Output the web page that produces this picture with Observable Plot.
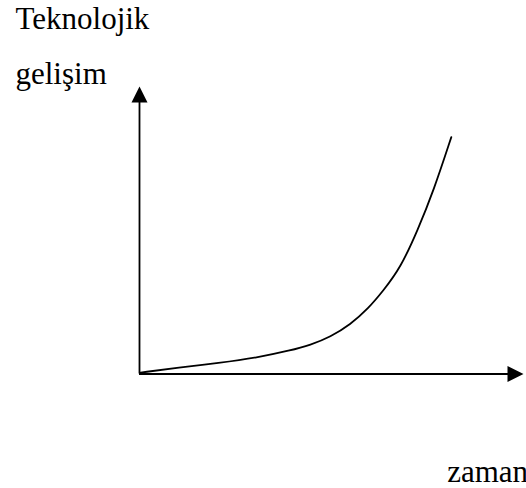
<!DOCTYPE html>
<html>
<head>
<meta charset="utf-8">
<script src="https://cdn.jsdelivr.net/npm/d3@7"></script>
<script src="https://cdn.jsdelivr.net/npm/@observablehq/plot@0.6"></script>
<style>
  html, body { margin: 0; padding: 0; background: #fff; }
  #chart svg text { font-family: "Liberation Serif", "Times New Roman", Times, "DejaVu Serif", serif !important; }
</style>
</head>
<body>
<div id="chart"></div>
<script>
// Data (arbitrary units, axes span 0..100)
const time = [0.3, 10.2, 20.6, 30.7, 39.3, 44.5, 49.7, 54.9, 59.6, 63.5, 68, 72.4, 76.6, 81.2];
const development = [0.5, 2.2, 3.8, 5.7, 8.2, 10.1, 12.9, 17.2, 22.8, 29.0, 37.0, 49.9, 63.8, 82.4];
const yLabel = "Teknolojik\ngelişim";
const xLabel = "zaman";
const axisMax = 100;

const curve = time.map((t, i) => ({t, d: development[i]}));

// filled arrowhead symbol, tip at the origin, pointing up
const arrowHead = {
  draw(ctx, size) {
    const s = Math.sqrt(size / Math.PI) * 2.5;
    ctx.moveTo(0, 0);
    ctx.lineTo(-s / 2, s);
    ctx.lineTo(s / 2, s);
    ctx.closePath();
  }
};

const font = "Liberation Serif, Times New Roman, DejaVu Serif, serif";

const chart = Plot.plot({
  width: 526,
  height: 488,
  marginLeft: 139,
  marginRight: 3,
  marginTop: 86,
  marginBottom: 114.5,
  x: {domain: [0, axisMax], axis: null},
  y: {domain: [0, axisMax], axis: null},
  style: {background: "#fff", fontFamily: font, overflow: "hidden"},
  marks: [
    Plot.ruleX([0], {y1: 0, y2: axisMax * 0.95, stroke: "#000", strokeWidth: 1.8}),
    Plot.ruleY([0], {x1: 0, x2: axisMax * 0.97, stroke: "#000", strokeWidth: 2}),
    Plot.dot([{x: 0, y: axisMax}], {x: "x", y: "y", symbol: arrowHead, r: 6.4, fill: "#000", stroke: null}),
    Plot.dot([{x: axisMax, y: 0}], {x: "x", y: "y", symbol: arrowHead, r: 6.4, rotate: 90, fill: "#000", stroke: null}),
    Plot.line(curve, {x: "t", y: "d", curve: "basis", stroke: "#000", strokeWidth: 1.8}),
    Plot.text([yLabel], {
      text: d => d, frameAnchor: "top-left", textAnchor: "start", lineAnchor: "bottom",
      lineHeight: 1.75, dx: -124, dy: -3, fontSize: 31, fill: "#000", fontFamily: font
    }),
    Plot.text([xLabel], {
      text: d => d, frameAnchor: "bottom-right", textAnchor: "start", lineAnchor: "bottom",
      dx: -76.3, dy: 108, fontSize: 31, fill: "#000", fontFamily: font
    })
  ]
});
document.getElementById("chart").appendChild(chart);
</script>
</body>
</html>
